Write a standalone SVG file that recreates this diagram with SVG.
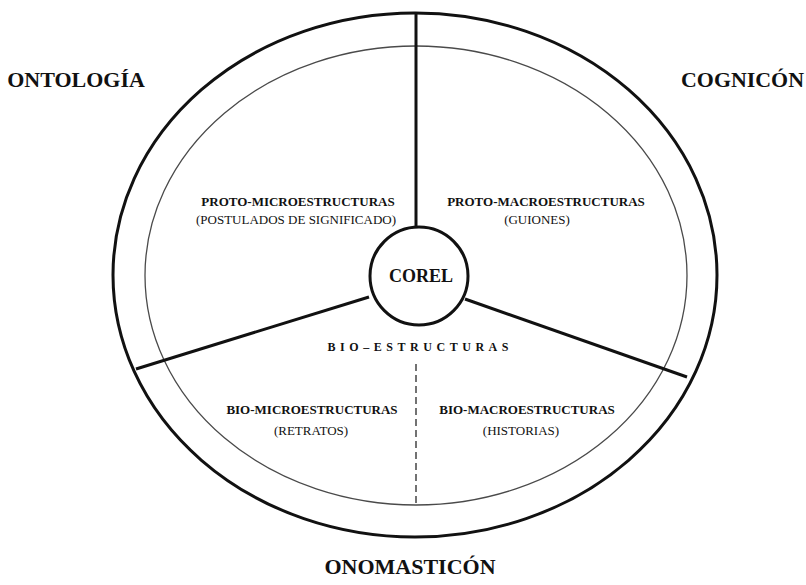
<svg xmlns="http://www.w3.org/2000/svg" width="806" height="585" viewBox="0 0 806 585">
<style>
.t{font-family:"Liberation Serif","Times New Roman",serif;fill:#111;text-anchor:middle}
.b{font-weight:bold}
.lab{font-size:13px}
.title{font-size:22px;font-weight:bold}
.outer{fill:none;stroke:#111;stroke-width:3}
.inner{fill:none;stroke:#4a4a4a;stroke-width:1.3}
.spoke{stroke:#111;stroke-width:3;fill:none}
.dash{stroke:#444;stroke-width:1.5;stroke-dasharray:7 4;fill:none}
</style>
<rect width="806" height="585" fill="#fff"/>
<g id="outer-ring"><ellipse class="outer" cx="415" cy="275" rx="302" ry="262"/></g>
<g id="inner-ring"><ellipse class="inner" cx="416" cy="275.5" rx="271" ry="229.5"/></g>
<g id="connectors">
<line class="spoke" x1="416" y1="13" x2="416" y2="227"/>
<line class="spoke" x1="369" y1="297" x2="136" y2="369"/>
<line class="spoke" x1="465" y1="299" x2="687" y2="377"/>
<line class="dash" x1="416" y1="364" x2="416" y2="505"/>
</g>
<g id="corel">
<circle cx="419" cy="276" r="49" fill="#fff" stroke="#111" stroke-width="3"/>
<text class="t b" x="421" y="282" font-size="18">COREL</text>
</g>
<g id="ontologia"><text class="t title" x="76" y="87">ONTOLOGÍA</text></g>
<g id="cognicon"><text class="t title" x="681" y="87" style="text-anchor:start" textLength="123" lengthAdjust="spacingAndGlyphs">COGNICÓN</text></g>
<g id="onomasticon"><text class="t title" x="410" y="574">ONOMASTICÓN</text></g>
<g id="proto-micro">
<text class="t b lab" x="298" y="206">PROTO-MICROESTRUCTURAS</text>
<text class="t lab" x="296" y="224">(POSTULADOS DE SIGNIFICADO)</text>
</g>
<g id="proto-macro">
<text class="t b lab" x="546" y="206">PROTO-MACROESTRUCTURAS</text>
<text class="t lab" x="537" y="224">(GUIONES)</text>
</g>
<g id="bio-estructuras"><text class="t b" x="418" y="351" font-size="12" textLength="181" lengthAdjust="spacing">BIO–ESTRUCTURAS</text></g>
<g id="bio-micro">
<text class="t b lab" x="312" y="414">BIO-MICROESTRUCTURAS</text>
<text class="t lab" x="311" y="435">(RETRATOS)</text>
</g>
<g id="bio-macro">
<text class="t b lab" x="527" y="414">BIO-MACROESTRUCTURAS</text>
<text class="t lab" x="521" y="435">(HISTORIAS)</text>
</g>
</svg>
